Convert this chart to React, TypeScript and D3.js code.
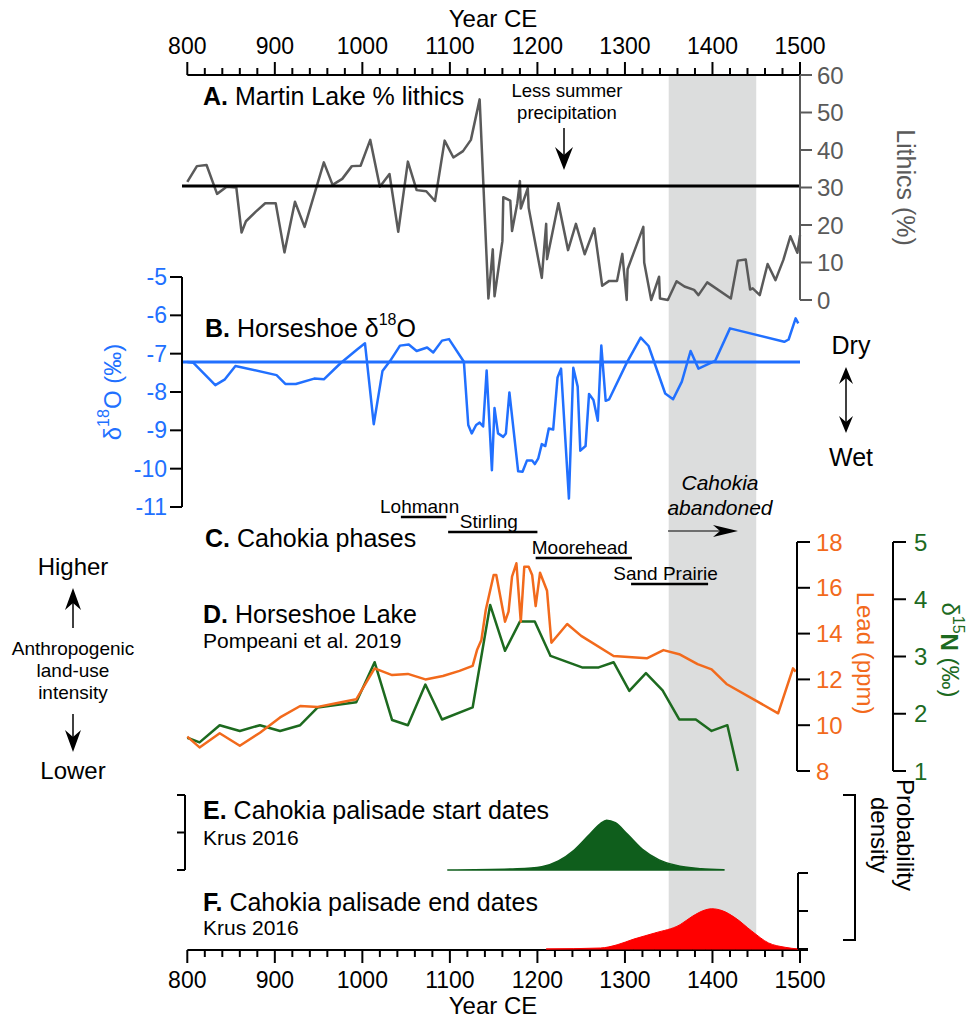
import React from "react";
import * as d3 from "d3";

// ---- data ----
const yearTicks = [800, 900, 1000, 1100, 1200, 1300, 1400, 1500];
const lithicsTicks = [0, 10, 20, 30, 40, 50, 60];
const o18Ticks = [-11, -10, -9, -8, -7, -6, -5];
const leadTicks = [8, 10, 12, 14, 16, 18];
const nTicks = [1, 2, 3, 4, 5];

const lithicsYear = [800, 811, 822, 834, 845, 856, 862, 867, 878, 889, 901, 911, 923, 934, 956, 966, 977, 988, 998, 1009, 1020, 1031, 1041, 1052, 1062, 1073, 1083, 1094, 1104, 1115, 1124, 1134, 1144, 1149, 1151, 1160, 1161, 1169, 1171, 1177, 1180, 1181, 1189, 1190, 1205, 1210, 1211, 1224, 1235, 1244, 1254, 1265, 1274, 1282, 1291, 1297, 1302, 1303, 1321, 1322, 1330, 1339, 1340, 1349, 1359, 1368, 1379, 1384, 1394, 1421, 1429, 1438, 1443, 1446, 1454, 1463, 1472, 1481, 1489, 1497, 1500];
const lithicsValue = [31.5, 35.7, 36, 28.3, 30.2, 30, 18, 21, 23.5, 25.8, 25.8, 12.7, 26.2, 19.5, 36.7, 30.7, 32.3, 35.7, 35.8, 42.7, 30.2, 33.6, 18.2, 36.9, 29.3, 29, 26.4, 42.5, 38, 39.7, 42.7, 53.5, 0.4, 13.5, 1, 15.7, 27.4, 26.5, 18.4, 25.8, 31.7, 24.4, 29.8, 24.6, 5.9, 20.3, 10.9, 25.8, 13.3, 20.3, 12.2, 19.1, 3.8, 5.1, 5.1, 12.3, 0, 8.2, 19.5, 10, 0, 6.2, 0.4, 0, 5, 3.6, 2.7, 1.3, 4.7, 0.4, 10.5, 10.8, 2.8, 3.1, 1.3, 9.6, 5.3, 10.7, 17, 12.6, 17.3];
const lithicsMean = 30.4;

const o18Year = [800, 807, 832, 843, 855, 902, 912, 924, 945, 956, 975, 994, 1003, 1013, 1023, 1032, 1043, 1053, 1062, 1074, 1081, 1091, 1099, 1116, 1121, 1125, 1130, 1134, 1138, 1142, 1148, 1151, 1155, 1161, 1164, 1168, 1178, 1183, 1188, 1194, 1197, 1201, 1205, 1209, 1213, 1218, 1223, 1227, 1236, 1241, 1246, 1249, 1255, 1259, 1264, 1269, 1273, 1278, 1282, 1302, 1318, 1327, 1346, 1355, 1365, 1375, 1384, 1403, 1420, 1482, 1487, 1495, 1498];
const o18Value = [-7.22, -7.24, -7.82, -7.67, -7.32, -7.56, -7.79, -7.79, -7.65, -7.67, -7.25, -6.89, -6.73, -8.84, -7.45, -7.18, -6.79, -6.76, -6.93, -6.84, -6.97, -6.66, -6.62, -7.21, -8.86, -9.08, -8.86, -8.8, -8.9, -7.44, -10.04, -8.42, -9.08, -9.17, -9.08, -8.01, -10.07, -10.08, -9.79, -9.79, -9.88, -9.73, -9.36, -9.41, -8.95, -8.98, -7.62, -7.39, -10.78, -7.37, -7.86, -9.53, -9.41, -8.05, -8.21, -8.75, -6.79, -8.23, -8.19, -7.24, -6.58, -6.8, -8.04, -8.19, -7.73, -6.93, -7.39, -7.19, -6.34, -6.69, -6.63, -6.08, -6.21];
const o18Mean = -7.22;

const phaseName = ["Lohmann", "Stirling", "Moorehead", "Sand Prairie"];
const phaseStart = [1044, 1098, 1198, 1307];
const phaseEnd = [1096, 1200, 1308, 1395];

const leadYear = [800, 814, 837, 860, 883, 906, 929, 949, 970, 993, 1014, 1034, 1052, 1072, 1092, 1111, 1126, 1131, 1136, 1141, 1150, 1153, 1163, 1167, 1171, 1176, 1181, 1185, 1190, 1194, 1198, 1203, 1211, 1216, 1234, 1250, 1287, 1325, 1344, 1362, 1383, 1399, 1416, 1475, 1492, 1495];
const leadValue = [9.5, 9.03, 9.65, 9.1, 9.67, 10.34, 10.84, 10.8, 10.96, 11.13, 12.48, 12.19, 12.24, 12, 12.15, 12.37, 12.59, 13.28, 13.72, 15.03, 16.56, 16.56, 14.52, 14.96, 16.49, 17.07, 14.52, 16.92, 16.92, 16.56, 15.2, 16.66, 15.87, 13.6, 14.42, 13.9, 13.02, 12.92, 13.28, 13.1, 12.67, 12.44, 11.8, 10.52, 12.48, 12.34];

const nYear = [800, 814, 837, 860, 883, 906, 929, 949, 993, 1014, 1034, 1052, 1072, 1091, 1126, 1146, 1163, 1180, 1197, 1215, 1233, 1251, 1270, 1287, 1305, 1324, 1343, 1362, 1381, 1399, 1417, 1429];
const nValue = [1.58, 1.5, 1.8, 1.7, 1.8, 1.7, 1.8, 2.11, 2.2, 2.9, 1.89, 1.8, 2.51, 1.9, 2.11, 3.9, 3.1, 3.61, 3.61, 3.01, 2.91, 2.81, 2.81, 2.9, 2.4, 2.71, 2.41, 1.9, 1.9, 1.7, 1.8, 1.0];

const startYear = [1097, 1177, 1205, 1224, 1241, 1258, 1272, 1279, 1289, 1303, 1320, 1339, 1358, 1387, 1413];
const startDensity = [0, 0.035, 0.088, 0.24, 0.51, 0.91, 1.24, 1.33, 1.26, 0.95, 0.55, 0.27, 0.125, 0.035, 0.008];

const endYear = [1210, 1272, 1291, 1310, 1334, 1363, 1377, 1392, 1399, 1411, 1426, 1445, 1464, 1483, 1498];
const endDensity = [0, 0.026, 0.11, 0.26, 0.42, 0.64, 0.86, 1.03, 1.06, 1.01, 0.82, 0.47, 0.16, 0.045, 0];

const abandonedFrom = 1350;
const abandonedTo = 1450;

// ---- styles ----
const FONT = "'Liberation Sans', Arial, Helvetica, sans-serif";
const GRAY = "#5a5a5a";
const BLUE = "#2170ff";
const ORANGE = "#f26a1c";
const GREEN = "#1d6a1f";
const DKGREEN = "#0f5e1c";
const RED = "#ff0000";
const BAND = "#dcdddd";

// notched arrow head, tip at (x,y), pointing along angle (deg, 0 = right)
function Head({ x, y, angle, len = 23, half = 9, notch = 8 }) {
  const d = `M0,0 L${-len},${-half} L${-len + notch},0 L${-len},${half} Z`;
  return <path d={d} transform={`translate(${x},${y}) rotate(${angle})`} fill="#000" />;
}

export default function App() {
  const x = d3.scaleLinear().domain([800, 1500]).range([187.3, 800]);
  const yLith = d3.scaleLinear().domain([0, 60]).range([300, 75]);
  const yO = d3.scaleLinear().domain([-11, -5]).range([507, 277]);
  const yLead = d3.scaleLinear().domain([8, 18]).range([771, 542]);
  const yN = d3.scaleLinear().domain([1, 5]).range([771, 542]);
  const yE = d3.scaleLinear().domain([0, 2]).range([870, 795]);
  const yF = d3.scaleLinear().domain([0, 2]).range([949, 873]);

  const minorYears = d3.range(800, 1501, 20);

  const lithPath = d3.line<number>().x((d, i) => x(lithicsYear[i])).y((d) => yLith(d))(lithicsValue);
  const o18Path = d3.line<number>().x((d, i) => x(o18Year[i])).y((d) => yO(d))(o18Value);
  const leadPath = d3.line<number>().x((d, i) => x(leadYear[i])).y((d) => yLead(d))(leadValue);
  const nPath = d3.line<number>().x((d, i) => x(nYear[i])).y((d) => yN(d))(nValue);
  const startArea = d3.area<number>().curve(d3.curveMonotoneX).x((d, i) => x(startYear[i])).y0(yE(0)).y1((d) => yE(d))(startDensity);
  const endArea = d3.area<number>().curve(d3.curveMonotoneX).x((d, i) => x(endYear[i])).y0(yF(0)).y1((d) => yF(d))(endDensity);

  const tickLbl = 23;
  const titleSize = 25;
  const subSize = 21;

  return (
    <svg width={972} height={1018} style={{ position: "absolute", left: 0, top: 0 }} fontFamily={FONT}>
      <rect width={972} height={1018} fill="#fff" />
      {/* abandonment band */}
      <rect x={x(abandonedFrom)} y={75} width={x(abandonedTo) - x(abandonedFrom)} height={875} fill={BAND} />

      {/* top axis */}
      <text x={493} y={18} fontSize={24} textAnchor="middle" dominantBaseline="central">Year CE</text>
      <line x1={x(800)} x2={x(1500)} y1={75} y2={75} stroke="#000" strokeWidth={2} />
      {minorYears.map((yr) => (
        <line key={"tt" + yr} x1={x(yr)} x2={x(yr)} y1={75} y2={yr % 100 === 0 ? 62 : 68} stroke="#000" strokeWidth={2} />
      ))}
      {yearTicks.map((yr) => (
        <text key={"tl" + yr} x={x(yr)} y={46} fontSize={tickLbl} textAnchor="middle" dominantBaseline="central">{yr}</text>
      ))}

      {/* bottom axis */}
      <line x1={x(800)} x2={x(1500) + 8} y1={950} y2={950} stroke="#000" strokeWidth={2} />
      {minorYears.map((yr) => (
        <line key={"bt" + yr} x1={x(yr)} x2={x(yr)} y1={950} y2={yr % 100 === 0 ? 963 : 957} stroke="#000" strokeWidth={2} />
      ))}
      {yearTicks.map((yr) => (
        <text key={"bl" + yr} x={x(yr)} y={980} fontSize={tickLbl} textAnchor="middle" dominantBaseline="central">{yr}</text>
      ))}
      <text x={493} y={1005} fontSize={24} textAnchor="middle" dominantBaseline="central">Year CE</text>

      {/* ---- A ---- */}
      <text x={203} y={96} fontSize={titleSize} dominantBaseline="central">
        <tspan fontWeight="bold">A.</tspan> Martin Lake % lithics
      </text>
      <text x={567} y={90} fontSize={18.5} textAnchor="middle" dominantBaseline="central">Less summer</text>
      <text x={567} y={112} fontSize={18.5} textAnchor="middle" dominantBaseline="central">precipitation</text>
      <line x1={564} x2={564} y1={128} y2={160} stroke="#000" strokeWidth={1.5} />
      <Head x={564} y={170} angle={90} />
      <path d={lithPath || ""} fill="none" stroke={GRAY} strokeWidth={2.5} strokeLinejoin="round" />
      <line x1={182} x2={800} y1={yLith(lithicsMean)} y2={yLith(lithicsMean)} stroke="#000" strokeWidth={3} />
      <line x1={800} x2={800} y1={yLith(60)} y2={yLith(0)} stroke={GRAY} strokeWidth={2} />
      {lithicsTicks.map((t) => (
        <g key={"li" + t}>
          <line x1={800} x2={812} y1={yLith(t)} y2={yLith(t)} stroke={GRAY} strokeWidth={2} />
          <text x={817} y={yLith(t)} fontSize={24} fill={GRAY} dominantBaseline="central">{t}</text>
        </g>
      ))}
      <text transform={`translate(906,${yLith(30)}) rotate(90)`} fontSize={25} fill={GRAY} textAnchor="middle" dominantBaseline="central">Lithics (%)</text>

      {/* ---- B ---- */}
      <text x={205} y={328} fontSize={titleSize} dominantBaseline="central">
        <tspan fontWeight="bold">B.</tspan> Horseshoe δ<tspan dy={-9} fontSize={16}>18</tspan><tspan dy={9}>O</tspan>
      </text>
      <path d={o18Path || ""} fill="none" stroke={BLUE} strokeWidth={2.5} strokeLinejoin="round" />
      <line x1={182} x2={800} y1={yO(o18Mean)} y2={yO(o18Mean)} stroke={BLUE} strokeWidth={3} />
      <line x1={182} x2={182} y1={yO(-5)} y2={yO(-11)} stroke="#000" strokeWidth={2} />
      {o18Ticks.map((t) => (
        <g key={"o" + t}>
          <line x1={170} x2={182} y1={yO(t)} y2={yO(t)} stroke="#000" strokeWidth={2} />
          <text x={167} y={yO(t)} fontSize={tickLbl} fill={BLUE} textAnchor="end" dominantBaseline="central">{t}</text>
        </g>
      ))}
      <text transform={`translate(112,${yO(-8)}) rotate(-90)`} fontSize={24} fill={BLUE} textAnchor="middle" dominantBaseline="central">
        δ<tspan dy={-9} fontSize={16}>18</tspan><tspan dy={9}>O (‰)</tspan>
      </text>
      <text x={851} y={345} fontSize={25} textAnchor="middle" dominantBaseline="central">Dry</text>
      <text x={851} y={457} fontSize={25} textAnchor="middle" dominantBaseline="central">Wet</text>
      <line x1={846} x2={846} y1={378} y2={422} stroke="#000" strokeWidth={1.5} />
      <Head x={846} y={367} angle={-90} len={17} half={7} notch={6} />
      <Head x={846} y={433} angle={90} len={17} half={7} notch={6} />

      {/* ---- C ---- */}
      <text x={205} y={538} fontSize={titleSize} dominantBaseline="central">
        <tspan fontWeight="bold">C.</tspan> Cahokia phases
      </text>
      {phaseName.map((p, i) => {
        const yb = [517, 532, 558, 584][i];
        const cx = (x(phaseStart[i]) + x(phaseEnd[i])) / 2 - 4;
        return (
          <g key={p}>
            <line x1={x(phaseStart[i])} x2={x(phaseEnd[i])} y1={yb} y2={yb} stroke="#000" strokeWidth={2.5} />
            <text x={cx} y={yb - 11} fontSize={19} textAnchor="middle" dominantBaseline="central">{p}</text>
          </g>
        );
      })}
      <text x={720} y={482} fontSize={21} fontStyle="italic" textAnchor="middle" dominantBaseline="central">Cahokia</text>
      <text x={720} y={507} fontSize={21} fontStyle="italic" textAnchor="middle" dominantBaseline="central">abandoned</text>
      <line x1={668} x2={725} y1={531} y2={531} stroke="#000" strokeWidth={1.2} />
      <Head x={738} y={531} angle={0} len={25} half={6} notch={7} />

      {/* ---- D ---- */}
      <text x={203} y={614} fontSize={titleSize} dominantBaseline="central">
        <tspan fontWeight="bold">D.</tspan> Horseshoe Lake
      </text>
      <text x={203} y={640} fontSize={subSize} dominantBaseline="central">Pompeani et al. 2019</text>
      <path d={nPath || ""} fill="none" stroke={GREEN} strokeWidth={2.5} strokeLinejoin="round" />
      <path d={leadPath || ""} fill="none" stroke={ORANGE} strokeWidth={2.5} strokeLinejoin="round" />
      <line x1={797} x2={797} y1={yLead(18)} y2={yLead(8)} stroke="#000" strokeWidth={2} />
      {leadTicks.map((t) => (
        <g key={"pb" + t}>
          <line x1={797} x2={810} y1={yLead(t)} y2={yLead(t)} stroke="#000" strokeWidth={2} />
          <text x={816} y={yLead(t)} fontSize={24} fill={ORANGE} dominantBaseline="central">{t}</text>
        </g>
      ))}
      <text transform={`translate(865,653) rotate(90)`} fontSize={24} fill={ORANGE} textAnchor="middle" dominantBaseline="central">Lead (ppm)</text>
      <line x1={893} x2={893} y1={yN(5)} y2={yN(1)} stroke="#000" strokeWidth={2} />
      {nTicks.map((t) => (
        <g key={"n" + t}>
          <line x1={893} x2={906} y1={yN(t)} y2={yN(t)} stroke="#000" strokeWidth={2} />
          <text x={914} y={yN(t)} fontSize={24} fill={GREEN} dominantBaseline="central">{t}</text>
        </g>
      ))}
      <text transform={`translate(950,650) rotate(90)`} fontSize={24} fill={GREEN} textAnchor="middle" dominantBaseline="central">
        δ<tspan dy={-9} fontSize={16}>15</tspan><tspan dy={9} fontWeight="bold">N</tspan> (‰)
      </text>

      {/* side annotation */}
      <text x={73} y={566} fontSize={24} textAnchor="middle" dominantBaseline="central">Higher</text>
      <line x1={73} x2={73} y1={600} y2={628} stroke="#000" strokeWidth={1.5} />
      <Head x={73} y={588} angle={-90} len={22} half={8} notch={7} />
      <text x={73} y={648} fontSize={19} textAnchor="middle" dominantBaseline="central">Anthropogenic</text>
      <text x={73} y={670} fontSize={19} textAnchor="middle" dominantBaseline="central">land-use</text>
      <text x={73} y={692} fontSize={19} textAnchor="middle" dominantBaseline="central">intensity</text>
      <line x1={73} x2={73} y1={714} y2={740} stroke="#000" strokeWidth={1.5} />
      <Head x={73} y={752} angle={90} len={22} half={8} notch={7} />
      <text x={73} y={770} fontSize={24} textAnchor="middle" dominantBaseline="central">Lower</text>

      {/* ---- E ---- */}
      <text x={203} y={810} fontSize={titleSize} dominantBaseline="central">
        <tspan fontWeight="bold">E.</tspan> Cahokia palisade start dates
      </text>
      <text x={203} y={837} fontSize={subSize} dominantBaseline="central">Krus 2016</text>
      <path d={startArea || ""} fill={DKGREEN} stroke={DKGREEN} strokeWidth={1.5} />
      <line x1={185} x2={185} y1={yE(2)} y2={yE(0)} stroke="#000" strokeWidth={2} />
      {[0, 1, 2].map((t) => (
        <line key={"e" + t} x1={177} x2={185} y1={yE(t)} y2={yE(t)} stroke="#000" strokeWidth={2} />
      ))}

      {/* ---- F ---- */}
      <text x={203} y={902} fontSize={titleSize} dominantBaseline="central">
        <tspan fontWeight="bold">F.</tspan> Cahokia palisade end dates
      </text>
      <text x={203} y={927} fontSize={subSize} dominantBaseline="central">Krus 2016</text>
      <path d={endArea || ""} fill={RED} stroke={RED} strokeWidth={1} />
      <line x1={798} x2={798} y1={yF(2)} y2={yF(0)} stroke="#000" strokeWidth={2} />
      {[0, 1, 2].map((t) => (
        <line key={"f" + t} x1={798} x2={808} y1={yF(t)} y2={yF(t)} stroke="#000" strokeWidth={2} />
      ))}

      {/* probability density bracket */}
      <path d="M843,795 L855,795 L855,940 L843,940" fill="none" stroke="#000" strokeWidth={2} />
      <text transform="translate(905,835) rotate(90)" fontSize={24} textAnchor="middle" dominantBaseline="central">Probability</text>
      <text transform="translate(879,835) rotate(90)" fontSize={24} textAnchor="middle" dominantBaseline="central">density</text>
    </svg>
  );
}
